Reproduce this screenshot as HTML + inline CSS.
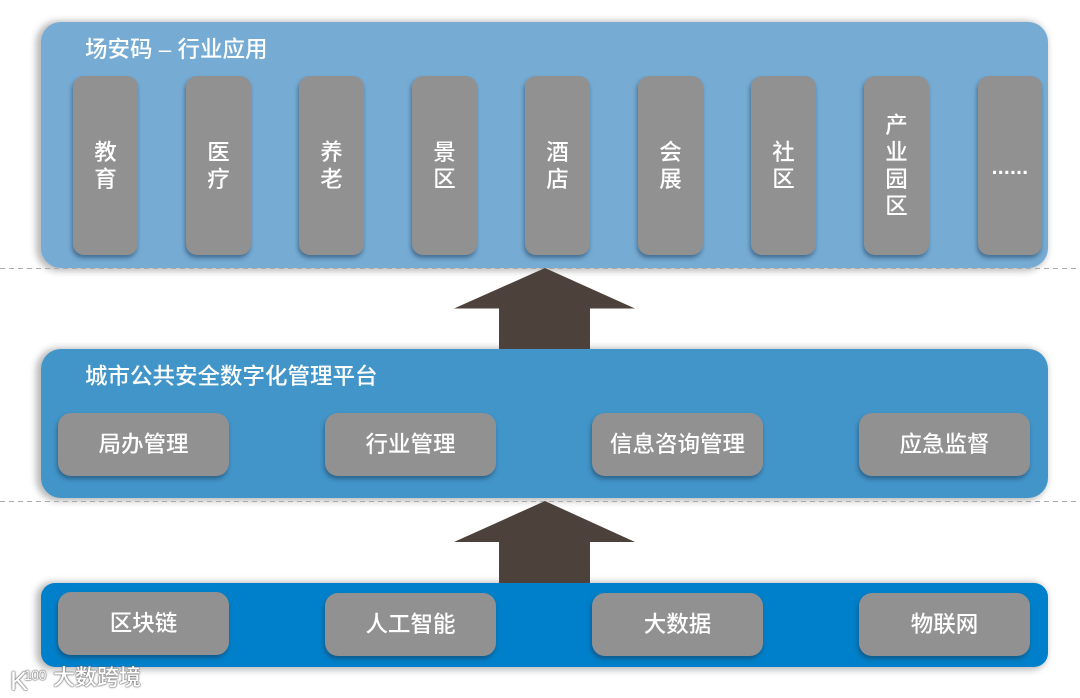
<!DOCTYPE html>
<html><head><meta charset="utf-8"><style>
html,body{margin:0;padding:0;background:#fff}
#r{position:relative;width:1080px;height:698px;overflow:hidden;background:#fff;font-family:"Liberation Sans","Noto Sans CJK SC",sans-serif;color:#fff}
.p{position:absolute;left:41px;width:1007px;box-shadow:-3px 1px 7px 2px rgba(90,90,90,.42)}
.c{position:absolute;background:#919191;border-radius:13px;box-shadow:-1px 3px 4px rgba(30,60,90,.55);display:flex;align-items:center;justify-content:center;text-align:center;font-size:22.5px;font-weight:500}
.v{width:65px;height:179px;top:76px;line-height:27px;border-radius:11px;box-sizing:border-box}
.h{width:171px;height:63px;padding-bottom:4px;box-sizing:border-box}
.t{position:absolute;left:85px;font-size:22.5px;line-height:26px;white-space:nowrap;font-weight:500}
</style></head><body><div id="r">
<div class="p" style="top:22px;height:246px;background:#76abd3;border-radius:20px"></div>
<div class="p" style="top:349px;height:149px;background:#4295c9;border-radius:20px"></div>
<div class="p" style="top:583px;height:84px;background:#0080ca;border-radius:14px"></div>
<svg style="position:absolute;left:0;top:0" width="1080" height="698">
<line x1="0" y1="268.5" x2="1080" y2="268.5" stroke="#aaa" stroke-dasharray="5 4"/>
<line x1="0" y1="501.5" x2="1080" y2="501.5" stroke="#aaa" stroke-dasharray="5 4"/>
<polygon points="545,268 635,308.5 590,308.5 590,349 499,349 499,308.5 454,308.5" fill="#4c413b"/>
<polygon points="545,501 635,542 590,542 590,583 499,583 499,542 454,542" fill="#4c413b"/>
</svg>
<div class="t" style="top:37px">场安码 – 行业应用</div>
<div class="t" style="top:364px">城市公共安全数字化管理平台</div>
<div class="c v" style="left:73px">教<br>育</div>
<div class="c v" style="left:186px">医<br>疗</div>
<div class="c v" style="left:299px">养<br>老</div>
<div class="c v" style="left:412px">景<br>区</div>
<div class="c v" style="left:525px">酒<br>店</div>
<div class="c v" style="left:638px">会<br>展</div>
<div class="c v" style="left:751px">社<br>区</div>
<div class="c v" style="left:864px">产<br>业<br>园<br>区</div>
<div class="c v" style="left:978px;width:64px;font-weight:bold;font-size:21px;letter-spacing:.3px;line-height:20px"><span style="position:relative;top:2px">......</span></div>
<div class="c h" style="left:58px;top:413px">局办管理</div>
<div class="c h" style="left:325px;top:413px">行业管理</div>
<div class="c h" style="left:592px;top:413px">信息咨询管理</div>
<div class="c h" style="left:859px;top:413px">应急监督</div>
<div class="c h" style="left:58px;top:592px">区块链</div>
<div class="c h" style="left:325px;top:593px">人工智能</div>
<div class="c h" style="left:592px;top:593px">大数据</div>
<div class="c h" style="left:859px;top:593px">物联网</div>
<div style="position:absolute;left:10px;top:663px;font-size:22px;line-height:30px;white-space:nowrap;font-weight:500;text-shadow:0 0 2px #666,0 0 1px #666,0 0 1px #666"><span style="font-size:27px;letter-spacing:-4px;position:relative;top:3px">K</span><span style="font-size:14px;position:relative;top:-7px;letter-spacing:-.5px">100</span><span style="position:absolute;left:43px;top:0">大数跨境</span></div>
</div></body></html>
